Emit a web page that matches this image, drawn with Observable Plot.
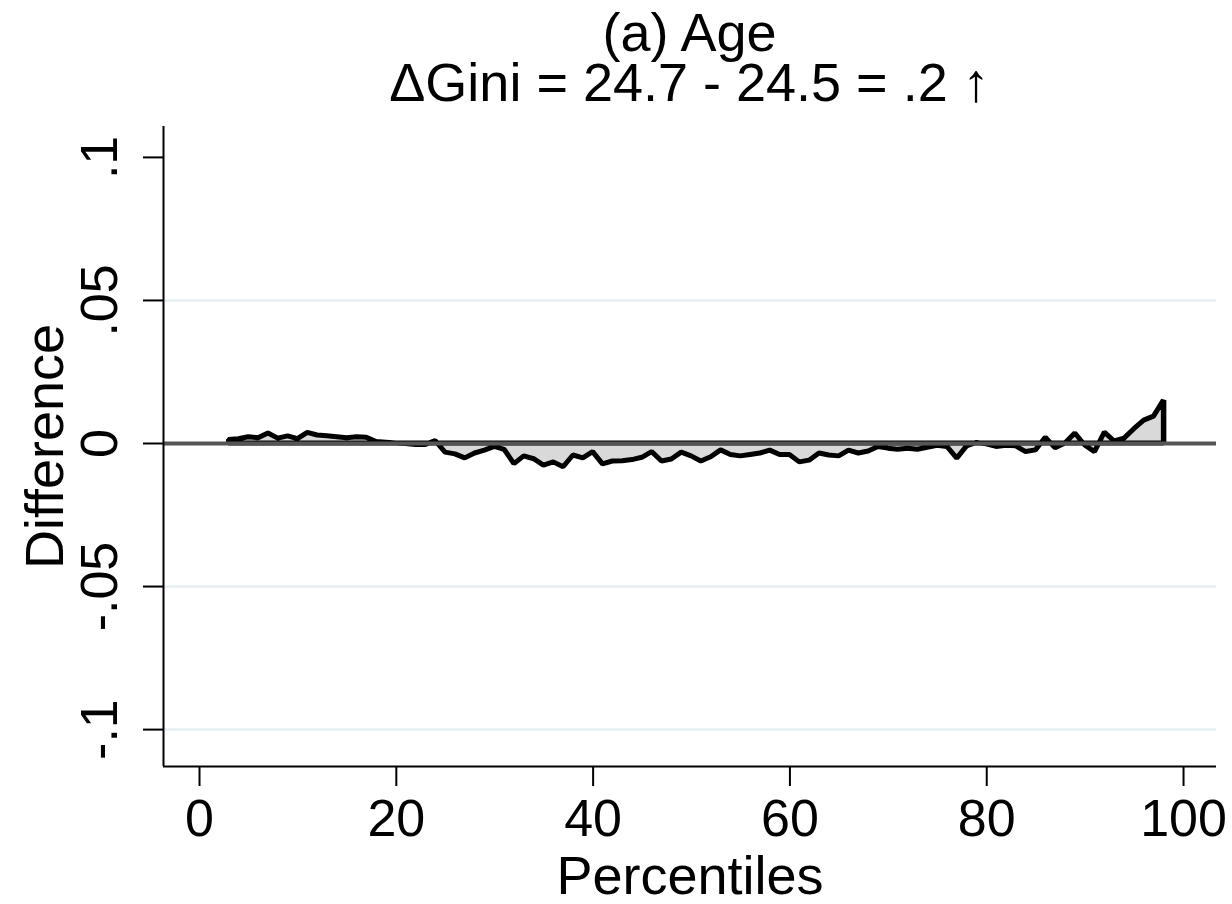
<!DOCTYPE html>
<html>
<head>
<meta charset="utf-8">
<script src="https://cdn.jsdelivr.net/npm/d3@7"></script>
<script src="https://cdn.jsdelivr.net/npm/@observablehq/plot@0.6"></script>
<style>
  html, body { margin: 0; padding: 0; background: #fff; }
  #wrap { width: 1232px; height: 904px; position: relative; font-family: "Liberation Sans", Arial, sans-serif; }
  #title { position: absolute; left: 163px; width: 1053px; top: 0; height: 110px; text-align: center; color: #000; }
  #title div { font-size: 54px; line-height: 50px; white-space: nowrap; }
  #chart { position: absolute; left: 0; top: 110px; }
</style>
</head>
<body>
<div id="wrap">
  <div id="title">
    <div style="padding-top:7px">(a) Age</div>
    <div>ΔGini = 24.7 - 24.5 = .2 ↑</div>
  </div>
  <div id="chart"></div>
</div>
<script>
// percentiles 3..98
const percentiles = [3,4,5,6,7,8,9,10,11,12,13,14,15,16,17,18,19,20,21,22,23,24,25,26,27,28,29,30,31,32,33,34,35,36,37,38,39,40,41,42,43,44,45,46,47,48,49,50,51,52,53,54,55,56,57,58,59,60,61,62,63,64,65,66,67,68,69,70,71,72,73,74,75,76,77,78,79,80,81,82,83,84,85,86,87,88,89,90,91,92,93,94,95,96,97,98];
const differences = [
  0.0012, 0.0015, 0.0022, 0.0018, 0.0035, 0.0017, 0.0025, 0.0015, 0.0037, 0.0028,
  0.0025, 0.0022, 0.0018, 0.0022, 0.0020, 0.0005, 0.0003, 0.0000, -0.0002, -0.0005,
  -0.0005, 0.0008, -0.0032, -0.0038, -0.0052, -0.0035, -0.0025, -0.0012, -0.0022, -0.0072,
  -0.0045, -0.0055, -0.0077, -0.0066, -0.0083, -0.0042, -0.0052, -0.0030, -0.0073, -0.0063,
  -0.0062, -0.0058, -0.0050, -0.0030, -0.0063, -0.0056, -0.0032, -0.0045, -0.0063, -0.0048,
  -0.0024, -0.0040, -0.0045, -0.0040, -0.0035, -0.0025, -0.0040, -0.0040, -0.0066, -0.0060,
  -0.0035, -0.0042, -0.0045, -0.0025, -0.0035, -0.0028, -0.0012, -0.0018, -0.0022, -0.0018,
  -0.0022, -0.0015, -0.0008, -0.0012, -0.0053, -0.0010, 0.0002, -0.0003, -0.0012, -0.0008,
  -0.0010, -0.0030, -0.0024, 0.0020, -0.0017, 0.0000, 0.0035, -0.0007, -0.0030, 0.0038,
  0.0007, 0.0017, 0.0050, 0.0080, 0.0094, 0.0150
];
const xTicks = [0, 20, 40, 60, 80, 100];
const yTicks = [-0.1, -0.05, 0, 0.05, 0.1];
const yTickLabels = ["-.1", "-.05", "0", ".05", ".1"];
const gridValues = [-0.1, -0.05, 0.05];
const xDomain = [-3.66, 103.35];
const yDomain = [-0.1129, 0.1108];

const data = percentiles.map((p, i) => ({p, d: differences[i]}));
const last = data[data.length - 1];
const first = data[0];

const chart = Plot.plot({
  width: 1232,
  height: 794,
  marginLeft: 163,
  marginRight: 16,
  marginTop: 16,
  marginBottom: 138,
  style: {fontFamily: "'Liberation Sans', Arial, sans-serif", color: "#000", background: "#fff"},
  x: {domain: xDomain, ticks: xTicks},
  y: {domain: yDomain, ticks: yTicks},
  marks: [
    Plot.ruleY(gridValues, {stroke: "#e6eff1", strokeWidth: 2.5}),
    Plot.areaY(data, {x: "p", y: "d", fill: "#d9d9d9", stroke: "#000", strokeWidth: 5, strokeLinejoin: "miter"}),
    Plot.ruleX([last], {x: "p", y1: 0, y2: "d", stroke: "#000", strokeWidth: 5}),
    Plot.ruleX([first], {x: "p", y1: 0, y2: "d", stroke: "#000", strokeWidth: 5}),
    Plot.ruleY([0], {stroke: "#555555", strokeWidth: 4}),
    Plot.ruleX([xDomain[0]], {stroke: "#000", strokeWidth: 2}),
    Plot.ruleY([yDomain[0]], {stroke: "#000", strokeWidth: 2}),
    Plot.axisX({ticks: xTicks, tickSize: 20, tickPadding: 13, tickFormat: d => String(d), fontSize: 52, label: null, stroke: "#000", strokeWidth: 2}),
    Plot.axisY({ticks: yTicks, tickSize: 20, tickFormat: () => "", label: null, stroke: "#000", strokeWidth: 2}),
    Plot.text(yTicks, {x: xDomain[0], y: d => d, text: (d, i) => yTickLabels[i], rotate: -90, textAnchor: "middle", lineAnchor: "middle", dx: -63, fontSize: 52, fill: "#000"}),
    Plot.text(["Percentiles"], {frameAnchor: "bottom", text: d => d, dy: 110, fontSize: 54, textAnchor: "middle", lineAnchor: "middle", fill: "#000"}),
    Plot.text(["Difference"], {frameAnchor: "left", text: d => d, dx: -118, rotate: -90, fontSize: 54, textAnchor: "middle", lineAnchor: "middle", fill: "#000"})
  ]
});
document.getElementById("chart").appendChild(chart);
</script>
</body>
</html>
